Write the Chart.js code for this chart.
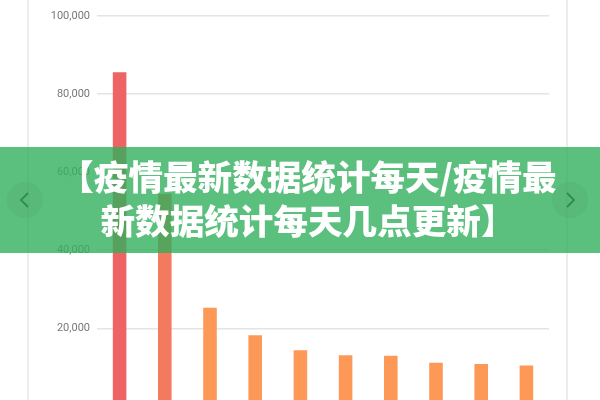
<!DOCTYPE html>
<html lang="zh">
<head>
<meta charset="utf-8">
<script src="https://cdn.jsdelivr.net/npm/chart.js@4/dist/chart.umd.min.js"></script>
<style>
  html, body { margin: 0; padding: 0; width: 600px; height: 400px; overflow: hidden; background: #fff; }
  #wrap { position: absolute; left: 0; top: 0; width: 600px; height: 420px; }
  .cadre { position: absolute; top: 0; width: 2px; height: 400px; background: #ececec; }
  #banner { position: absolute; left: 0; top: 147px; width: 600px; height: 106px; background: rgba(50, 175, 92, 0.8); }
  #titre { position: absolute; left: 8px; top: 7px; width: 600px; text-align: center; color: #fff;
           font-family: "Noto Sans CJK SC", sans-serif; font-weight: 900; font-size: 34.6px;
           line-height: 43.5px; white-space: nowrap; }
  .fleche { position: absolute; top: 36px; width: 34px; height: 34px; border-radius: 50%;
            background: rgba(0, 0, 0, 0.03); box-shadow: 0 0 0 1px rgba(0, 0, 0, 0.04); }
</style>
</head>
<body>
<div id="wrap"><canvas id="myChart"></canvas></div>
<div class="cadre" style="left:27px"></div>
<div class="cadre" style="left:566px"></div>
<div id="banner">
  <div id="titre">【疫情最新数据统计每天/疫情最<br>新数据统计每天几点更新】</div>
  <div class="fleche" style="left:8px">
    <svg width="34" height="34"><polyline points="20,10 13,17 20,24" fill="none" stroke="#2f8c4d" stroke-width="1.8"/></svg>
  </div>
  <div class="fleche" style="left:553px">
    <svg width="34" height="34"><polyline points="14,10 21,17 14,24" fill="none" stroke="#2f8c4d" stroke-width="1.8"/></svg>
  </div>
</div>
<script>
//! Le contexte graphique.
const ctx = document.getElementById('myChart').getContext('2d');
//! ---------------------------------

//! Les labels (axe x hors cadre).
const myLabels = ['1', '2', '3', '4', '5', '6', '7', '8', '9', '10'];
//! ---------------------------------

//! Les datas.
const myData = [85600, 54500, 25300, 18200, 14400, 13100, 13000, 11200, 10850, 10450];
const myColors = ['#ee6363', '#f37a5e', '#fd9856', '#fd9856', '#fd9856', '#fd9856', '#fd9856', '#fd9856', '#fd9856', '#fd9856'];
const yTicks = [0, 20000, 40000, 60000, 80000, 100000];
//! ---------------------------------

//! Les datas.
const data = {
  labels: myLabels,
  datasets: [
    {
      data: myData,
      backgroundColor: myColors,
      borderWidth: 0,
      categoryPercentage: 1,
      barPercentage: 0.3,
    },
  ],
};
//! ---------------------------------

//! Les options.
const options = {
  responsive: true,
  maintainAspectRatio: false,
  animation: false,
  layout: { padding: { top: 16, right: 51, bottom: 4, left: 0 } },
  plugins: { legend: { display: false }, tooltip: { enabled: false } },
  scales: {
    x: { display: false },
    y: {
      min: yTicks[0],
      max: yTicks[yTicks.length - 1],
      afterBuildTicks: function (scale) {
        scale.ticks = yTicks.map((v) => ({ value: v }));
      },
      afterFit: function (scale) {
        scale.width = 97;
      },
      border: { display: false },
      grid: { color: '#e4e4e4', lineWidth: 1.5, drawTicks: false },
      ticks: {
        padding: 7,
        color: '#777',
        font: { family: 'Roboto', size: 11 },
        callback: function (value) {
          return value.toLocaleString('en-US');
        },
      },
    },
  },
};
//! ---------------------------------

//! La configuration du graphique.
const config = {
  type: 'bar',
  data,
  options,
};
//! ---------------------------------

//!L'instanciation de graphique.
const myChart = new Chart(ctx, config);
//! ---------------------------------
</script>
</body>
</html>
